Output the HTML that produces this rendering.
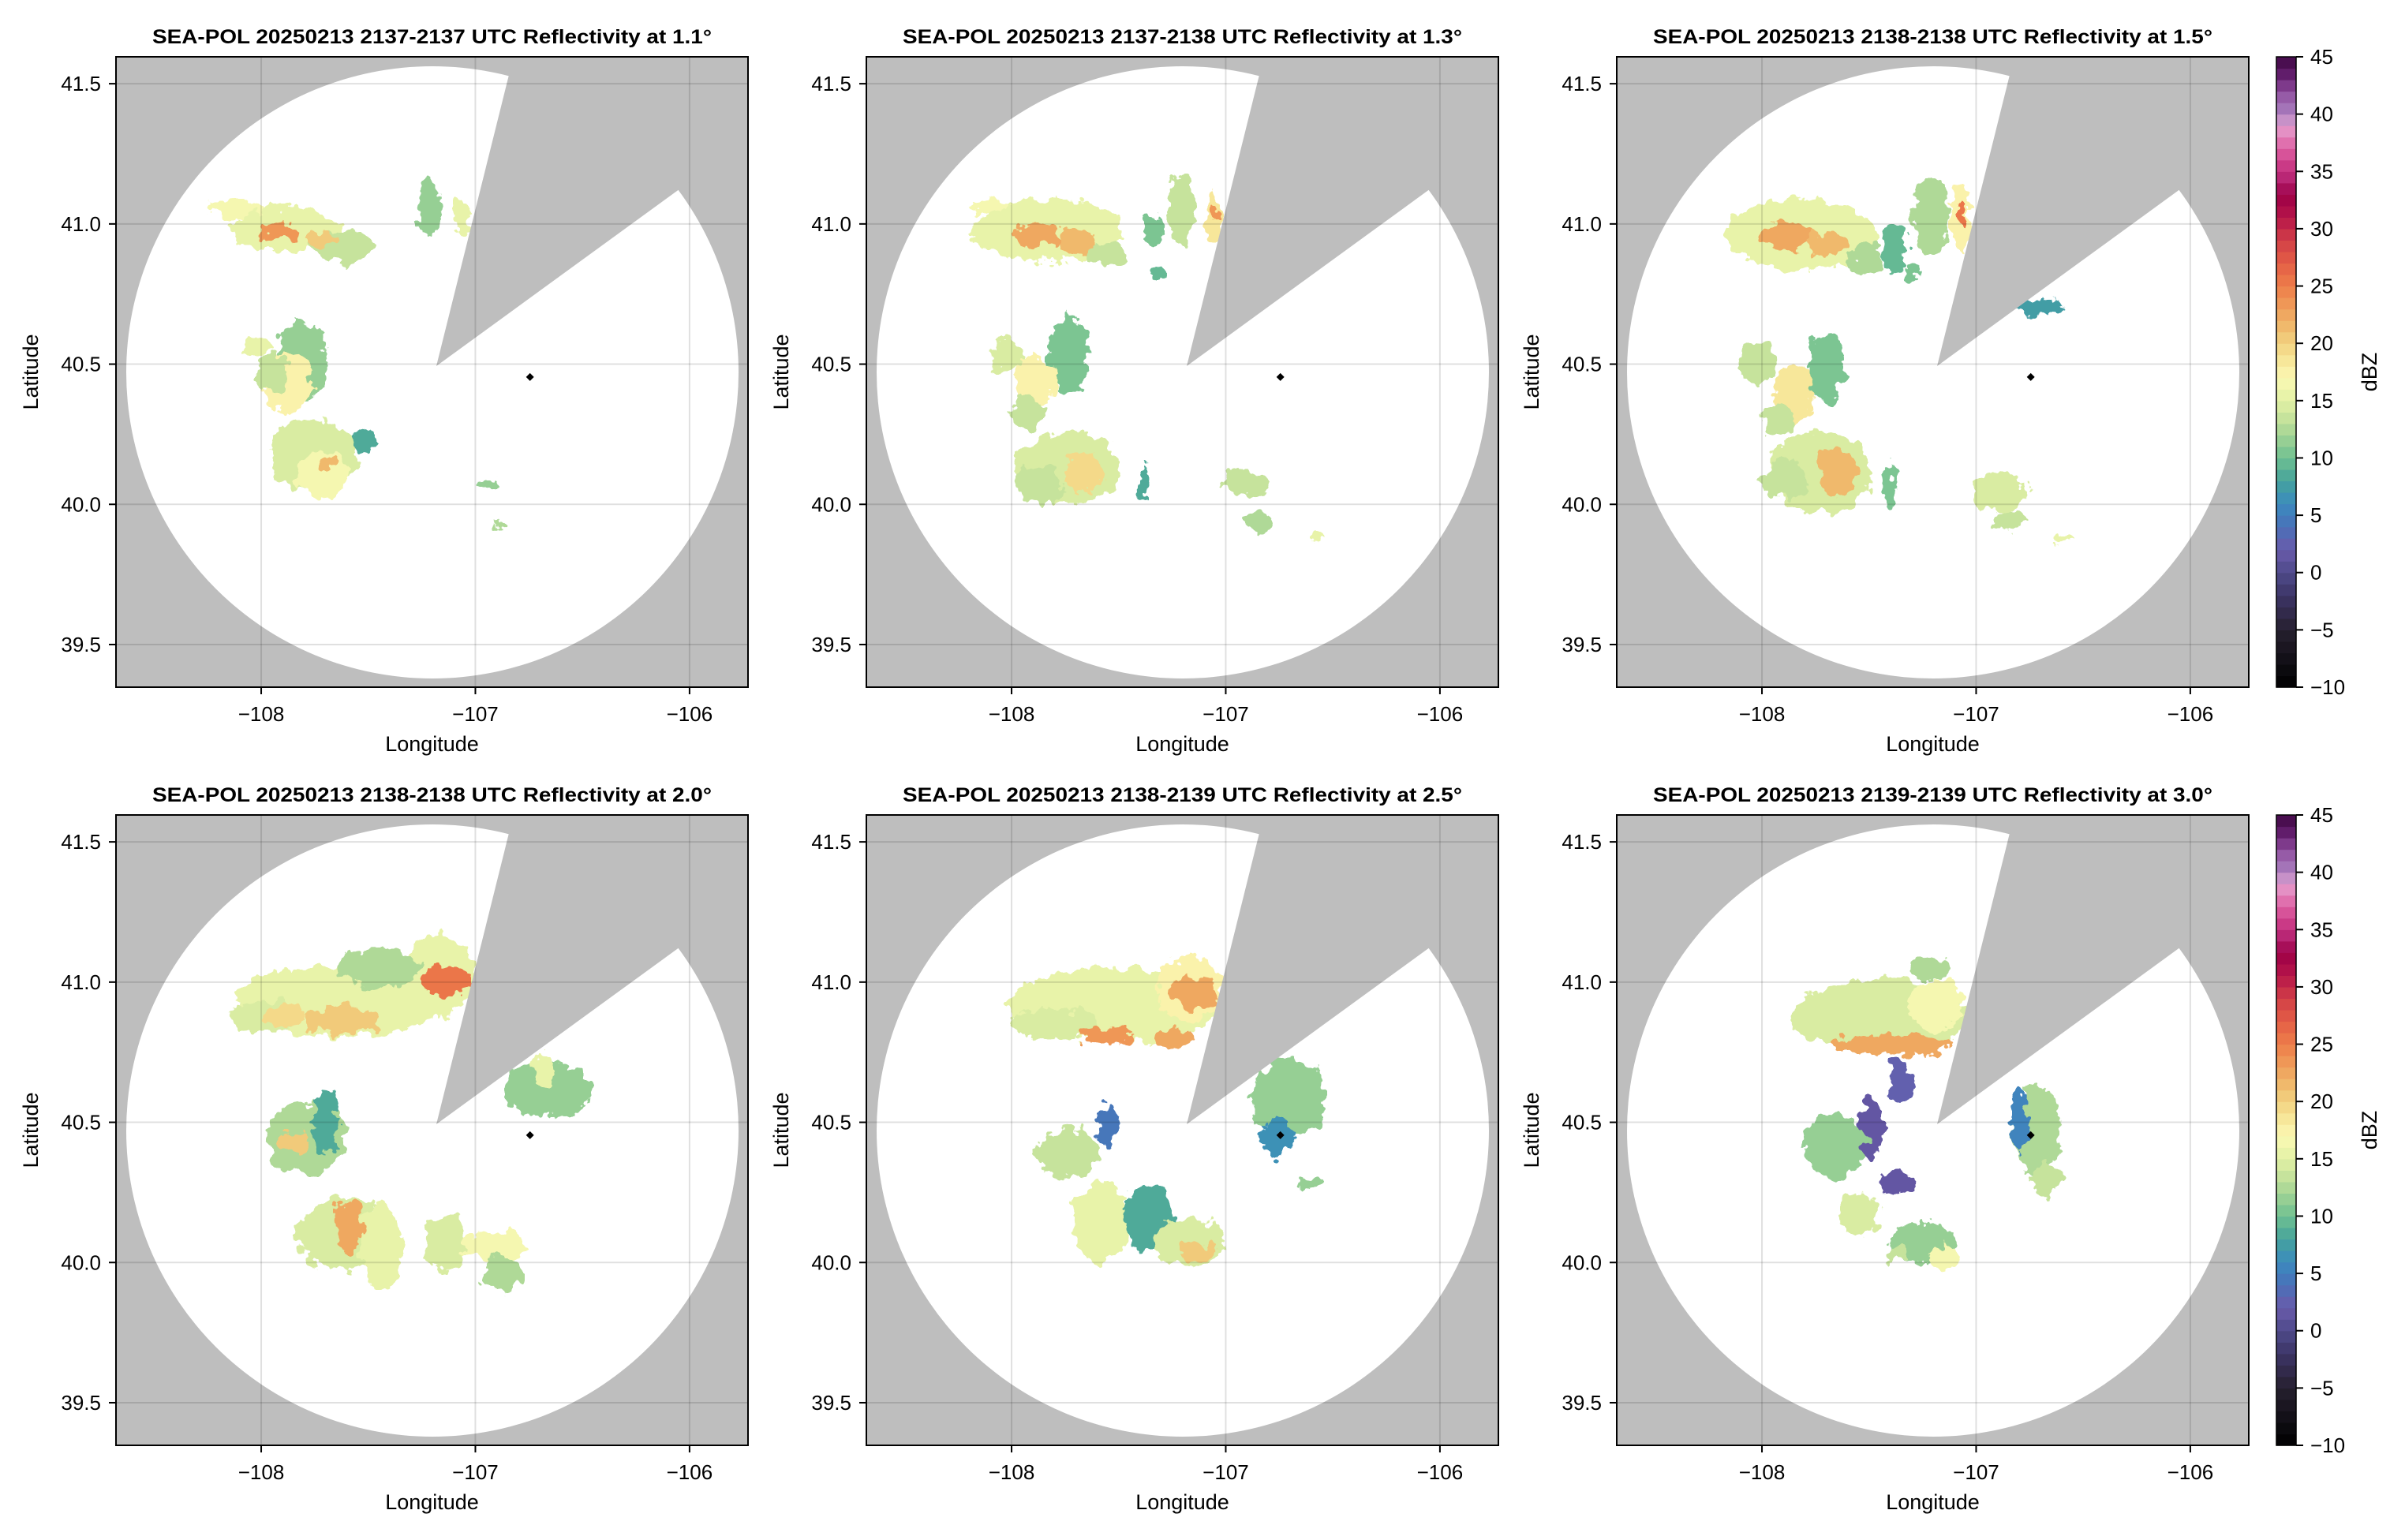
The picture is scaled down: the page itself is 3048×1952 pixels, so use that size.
<!DOCTYPE html>
<html><head><meta charset="utf-8"><style>
html,body{margin:0;padding:0;background:#fff;}
svg{display:block;font-family:"Liberation Sans",Arial,sans-serif;}
</style></head><body>
<svg id="fig" width="3048" height="1952" viewBox="0 0 3048 1952" xmlns="http://www.w3.org/2000/svg">
<defs>
<filter id="ragged" x="-10%" y="-10%" width="120%" height="120%">
<feTurbulence type="fractalNoise" baseFrequency="0.06" numOctaves="3" seed="3" result="n"/>
<feDisplacementMap in="SourceGraphic" in2="n" scale="26" xChannelSelector="R" yChannelSelector="G"/>
</filter>
</defs>
</svg>
<script>
const titles = ["SEA-POL 20250213 2137-2137 UTC Reflectivity at 1.1°","SEA-POL 20250213 2137-2138 UTC Reflectivity at 1.3°","SEA-POL 20250213 2138-2138 UTC Reflectivity at 1.5°","SEA-POL 20250213 2138-2138 UTC Reflectivity at 2.0°","SEA-POL 20250213 2138-2139 UTC Reflectivity at 2.5°","SEA-POL 20250213 2139-2139 UTC Reflectivity at 3.0°"];
const lonTicks = [-108,-107,-106];
const latTicks = [41.5,41.0,40.5,40.0,39.5];
const cbarTicks = [45,40,35,30,25,20,15,10,5,0,-5,-10];
const radarLon = -106.745, radarLat = 40.454;
// echo blobs per panel: centre lon, centre lat, half-extent lon, half-extent lat, reflectivity dBZ
const echoLon = [
 [-108.113,-107.878,-107.62,-107.925,-107.714,-107.221,-107.061,-107.808,-108.03,-107.878,-107.95,-107.76,-107.714,-107.526,-107.69,-106.94,-106.88],
 [-107.83,-108.113,-107.887,-107.70,-107.55,-107.21,-107.06,-107.06,-107.342,-107.333,-107.737,-108.02,-107.887,-107.925,-107.737,-107.66,-107.868,-107.38,-106.91,-106.844,-106.57],
 [-107.812,-107.887,-107.70,-107.511,-107.38,-107.21,-107.07,-107.06,-107.30,-106.72,-107.70,-108.02,-107.85,-107.925,-107.737,-107.643,-107.89,-107.40,-106.89,-106.844,-106.59],
 [-107.624,-107.173,-107.455,-107.98,-107.624,-107.887,-107.135,-106.665,-106.685,-107.793,-107.70,-107.85,-107.624,-107.586,-107.436,-107.135,-106.91,-106.87],
 [-107.511,-107.173,-107.80,-107.154,-107.55,-107.248,-106.703,-106.76,-106.61,-107.737,-107.549,-107.586,-107.36,-107.173,-107.138],
 [-107.436,-107.19,-107.21,-107.399,-107.36,-107.49,-107.38,-107.662,-107.55,-107.248,-107.154,-107.36,-106.722,-106.797,-106.665]
];
const echoLat = [
 [41.058,40.979,40.917,40.974,40.944,41.058,41.023,40.512,40.565,40.44,40.47,40.178,40.107,40.23,40.15,40.076,39.92],
 [40.978,41.064,40.963,40.935,40.89,41.05,41.02,41.035,40.978,40.827,40.532,40.532,40.445,40.33,40.129,40.114,40.071,40.086,40.071,39.935,39.884],
 [40.963,40.956,40.927,40.877,40.906,41.035,41.02,41.035,40.83,40.704,40.488,40.503,40.40,40.30,40.114,40.114,40.09,40.071,40.042,39.94,39.884],
 [40.935,41.021,41.05,40.877,40.863,40.877,41.006,40.618,40.69,40.445,40.50,40.43,40.10,40.129,40.057,40.071,40.057,39.96],
 [40.92,40.978,40.85,40.963,40.812,40.798,40.589,40.445,40.287,40.388,40.488,40.143,40.158,40.071,40.04],
 [40.877,40.92,41.05,40.776,40.647,40.474,40.287,40.417,40.172,40.071,40.014,40.03,40.474,40.50,40.30]
];
const echoRadLon = [
 [0.13,0.26,0.14,0.10,0.07,0.047,0.035,0.117,0.066,0.117,0.07,0.21,0.117,0.06,0.035,0.06,0.015],
 [0.357,0.094,0.11,0.094,0.094,0.066,0.038,0.019,0.038,0.038,0.094,0.075,0.094,0.075,0.244,0.094,0.113,0.019,0.103,0.056,0.028],
 [0.357,0.13,0.094,0.075,0.056,0.085,0.047,0.023,0.04,0.113,0.085,0.085,0.094,0.075,0.244,0.094,0.113,0.028,0.122,0.066,0.038],
 [0.49,0.17,0.19,0.17,0.17,0.094,0.113,0.207,0.056,0.188,0.056,0.075,0.207,0.075,0.094,0.094,0.15,0.094],
 [0.508,0.15,0.21,0.113,0.13,0.094,0.17,0.075,0.056,0.15,0.056,0.13,0.113,0.17,0.075],
 [0.414,0.13,0.094,0.282,0.056,0.056,0.075,0.15,0.094,0.15,0.075,0.056,0.113,0.038,0.066]
];
const echoRadLat = [
 [0.032,0.08,0.06,0.032,0.026,0.105,0.062,0.14,0.044,0.105,0.07,0.123,0.088,0.035,0.026,0.021,0.01],
 [0.115,0.022,0.043,0.043,0.043,0.13,0.086,0.029,0.072,0.022,0.144,0.058,0.086,0.058,0.13,0.072,0.072,0.072,0.05,0.043,0.012],
 [0.13,0.05,0.043,0.05,0.086,0.144,0.115,0.036,0.03,0.029,0.13,0.072,0.1,0.058,0.144,0.086,0.072,0.086,0.072,0.036,0.015],
 [0.13,0.144,0.072,0.058,0.05,0.043,0.058,0.1,0.058,0.13,0.115,0.043,0.13,0.086,0.158,0.115,0.058,0.058],
 [0.13,0.115,0.058,0.058,0.029,0.029,0.144,0.072,0.022,0.086,0.072,0.144,0.115,0.086,0.036],
 [0.13,0.086,0.043,0.036,0.072,0.115,0.043,0.115,0.072,0.072,0.043,0.022,0.158,0.115,0.058]
];
const echoDbz = [
 [16,15,13,23,20,11,15,11,15,17,13,14,16,8,21,11,12],
 [15,16,22,21,13,13,18,23,10,9,10,14,17,13,14,19,13,8,13,12,15],
 [15,22,21,12,9,12,17,25,10,7,10,13,18,13,14,21,13,10,14,13,15],
 [15,15,12,14,20,19,25,11,15,12,8,20,14,22,15,14,16,12],
 [15,17,14,22,23,22,11,6,11,13,4,15,8,14,20],
 [14,16,12,22,2,1,1,11,14,11,16,13,12,5,13]
];

const NS = "http://www.w3.org/2000/svg";
const svg = document.getElementById("fig");
function el(tag, attrs, parent){ const e=document.createElementNS(NS,tag); for(const k in attrs) e.setAttribute(k,attrs[k]); (parent||svg).appendChild(e); return e; }

const stops=[[-10,"#000000"],[-5,"#26202f"],[-2,"#3d3466"],[0,"#4e4a8a"],[2,"#6a5bab"],[4,"#4a70b8"],[6,"#3b8bbf"],[8,"#46a39c"],[10,"#6fc091"],[12,"#a3d495"],[14,"#d2e89e"],[16,"#eff6ad"],[17,"#fbf8b3"],[19,"#f5e191"],[21,"#f0c272"],[23,"#ef9f5b"],[25,"#ed7e4a"],[27,"#e35e46"],[29,"#d23f47"],[31,"#b6154a"],[33,"#9d0046"],[34,"#b11d6c"],[36,"#d2448f"],[38,"#e47eb8"],[39,"#e3a2d0"],[40,"#ab80c0"],[42,"#8f4f9e"],[43,"#6c2478"],[45,"#3f0642"]];
function hex2(h){return [1,3,5].map(i=>parseInt(h.substr(i,2),16));}
function cmap(v){
  v=Math.floor(v)+0.5; if(v<-10)v=-10; if(v>45)v=45;
  for(let i=0;i<stops.length-1;i++){const a=stops[i],b=stops[i+1]; if(v>=a[0]&&v<=b[0]){const t=(v-a[0])/(b[0]-a[0]); const ca=hex2(a[1]),cb=hex2(b[1]); return "rgb("+ca.map((c,j)=>Math.round(c+(cb[j]-c)*t)).join(",")+")";}}
  return stops[stops.length-1][1];
}

const W=801,H=799;
const lonMin=-108.678, lonMax=-105.727, latMax=41.596, latMin=39.348;
for(let p=0;p<6;p++){
  const c=p%3, r=Math.floor(p/3);
  const L=147+951*c, T=72+961*r;
  const xs=lon=>L+(lon-lonMin)/(lonMax-lonMin)*W;
  const ys=lat=>T+(latMax-lat)/(latMax-latMin)*H;
  const g=el("g",{});
  
  
  const cid="clip"+p;
  const cp=el("clipPath",{id:cid},g); el("rect",{x:L,y:T,width:W,height:H},cp);
  const bg=el("rect",{x:L,y:T,width:W,height:H,fill:"#bebebe"},g);
  
  
  const circ=el("ellipse",{cx:L+401,cy:T+400,rx:388,ry:388,fill:"#fff"},g);
  
  
  const outer=el("g",{"clip-path":"url(#"+cid+")"},g);
  const eg=el("g",{filter:"url(#ragged)"},outer);
  for(let i=0;i<echoLon[p].length;i++){
    const e=el("ellipse",{cx:xs(echoLon[p][i]),cy:ys(echoLat[p][i]),rx:echoRadLon[p][i]*W/(lonMax-lonMin),ry:echoRadLat[p][i]*H/(latMax-latMin),fill:cmap(echoDbz[p][i])},eg);
    
    
  }
  const ax=L+406, ay=T+392;
  const d1=[498-406,23-392], d2=[711-406,170-392];
  const wedge=el("polygon",{points:[ax,ay, ax+d1[0]*5,ay+d1[1]*5, ax+d2[0]*5,ay+d2[1]*5].join(","),fill:"#bebebe","clip-path":"url(#"+cid+")"},g);
  
  
  lonTicks.forEach(v=>{ const l=el("line",{x1:xs(v),x2:xs(v),y1:T,y2:T+H,stroke:"rgba(0,0,0,0.12)","stroke-width":2},g);
     });
  latTicks.forEach(v=>{ const l=el("line",{x1:L,x2:L+W,y1:ys(v),y2:ys(v),stroke:"rgba(0,0,0,0.12)","stroke-width":2},g);
     });
  const rx=xs(radarLon), ry=ys(radarLat);
  const mk=el("polygon",{points:[rx,ry-5,rx+5,ry,rx,ry+5,rx-5,ry].join(","),fill:"#000"},g);
  
  
  const fr=el("rect",{x:L,y:T,width:W,height:H,fill:"none",stroke:"#000","stroke-width":2},g);
  
  
  lonTicks.forEach(v=>{ const x=xs(v);
    el("line",{x1:x,x2:x,y1:T+H,y2:T+H+9,stroke:"#000","stroke-width":2},g);
    const t=el("text",{x:x,y:T+H+43,"font-size":26,"text-anchor":"middle"},g); t.textContent="−"+Math.abs(v);
     });
  latTicks.forEach(v=>{ const y=ys(v);
    el("line",{x1:L-9,x2:L,y1:y,y2:y,stroke:"#000","stroke-width":2},g);
    const t=el("text",{x:L-19,y:y+9,"font-size":26,"text-anchor":"end"},g); t.textContent=v.toFixed(1);
     });
  const xt=el("text",{x:L+W/2,y:T+H+81,"font-size":27,"text-anchor":"middle"},g); xt.textContent="Longitude";
   
  const yt=el("text",{x:0,y:0,"font-size":27,"text-anchor":"middle",transform:"translate("+(L-99)+","+(T+H/2)+") rotate(-90)"},g); yt.textContent="Latitude";
   
  const tt=el("text",{x:L+W/2,y:T-17,"font-size":25,"font-weight":"bold","text-anchor":"middle",textLength:709,lengthAdjust:"spacingAndGlyphs"},g); tt.textContent=titles[p];
   
}
for(let r=0;r<2;r++){
  const T=72+961*r, X=2885, CW=25, CH=799;
  const g=el("g",{});
  
  
  const ys=v=>T+(45-v)/55*CH;
  for(let v=-10;v<45;v++){
    el("rect",{x:X,y:ys(v+1),width:CW,height:ys(v)-ys(v+1)+0.6,fill:cmap(v)},g);
  }
  el("rect",{x:X,y:T,width:CW,height:CH,fill:"none",stroke:"#000","stroke-width":1.5},g);
  cbarTicks.forEach(v=>{ const y=ys(v);
    el("line",{x1:X+CW,x2:X+CW+9,y1:y,y2:y,stroke:"#000","stroke-width":2},g);
    const t=el("text",{x:X+CW+18,y:y+9,"font-size":26},g); t.textContent=(v<0?"−":"")+Math.abs(v);
     });
  const lb=el("text",{x:0,y:0,"font-size":27,"text-anchor":"middle",transform:"translate(3012,"+(T+CH/2)+") rotate(-90)"},g); lb.textContent="dBZ";
   
}
</script>
</body></html>
